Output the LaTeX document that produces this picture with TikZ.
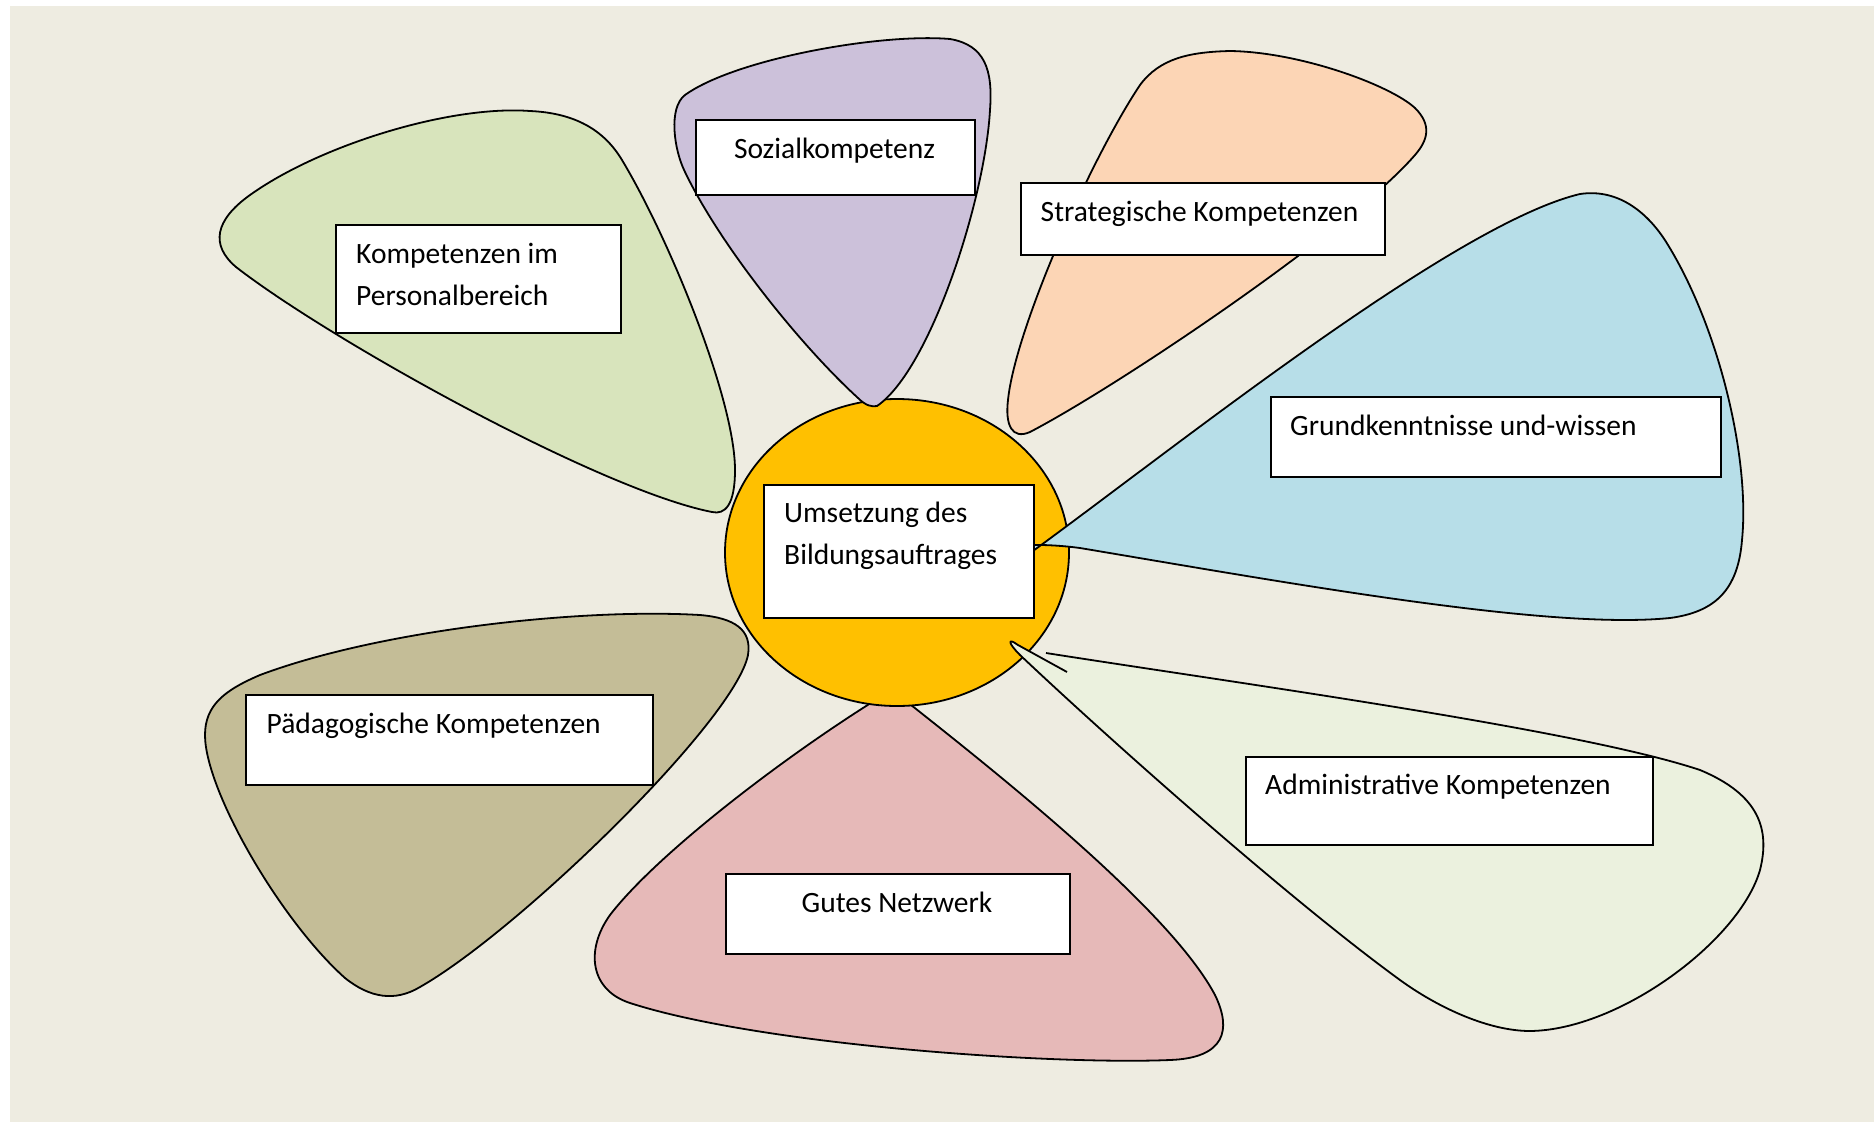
\documentclass[tikz,border=0pt]{standalone}
\usepackage{fontspec}
\setmainfont{Carlito}
\usetikzlibrary{shapes.geometric}
\definecolor{bgc}{HTML}{EEECE1}
\definecolor{cgreen}{HTML}{D8E4BC}
\definecolor{cpurple}{HTML}{CCC1DA}
\definecolor{corange}{HTML}{FCD5B5}
\definecolor{cblue}{HTML}{B7DEE8}
\definecolor{clgreen}{HTML}{EBF1DE}
\definecolor{cpink}{HTML}{E6B9B8}
\definecolor{ckhaki}{HTML}{C4BD97}
\definecolor{cgold}{HTML}{FFC000}
\begin{document}
\begin{tikzpicture}[x=1pt,y=-1pt,
  petal/.style={draw=black, line width=1.8pt, line join=round},
  labelbox/.style={draw=black, fill=white, line width=1.8pt, inner sep=0pt, anchor=north west},
  txt/.style={anchor=base west, inner sep=0pt, font=\fontsize{29.5}{35}\selectfont},
  ctxt/.style={anchor=base, inner sep=0pt, font=\fontsize{29.5}{35}\selectfont}]
\useasboundingbox (0,0) rectangle (1874,1122);
\fill[bgc] (10,6) rectangle (1874,1122);

% pink petal (behind the centre)
\filldraw[petal, fill=cpink] (892,690) .. controls (800,745) and (660,850) .. (610,915)
  .. controls (585,950) and (590,990) .. (630,1003)
  .. controls (760,1045) and (1050,1065) .. (1170,1060)
  .. controls (1225,1058) and (1232,1030) .. (1215,995)
  .. controls (1170,910) and (1000,775) .. (892,690) -- cycle;

% khaki petal
\filldraw[petal, fill=ckhaki] (700,615) .. controls (735,618) and (752,630) .. (748,655)
  .. controls (735,720) and (520,930) .. (420,987)
  .. controls (395,1002) and (370,998) .. (345,978)
  .. controls (280,920) and (205,790) .. (205,735)
  .. controls (205,705) and (225,690) .. (260,675)
  .. controls (380,630) and (580,608) .. (700,615) -- cycle;

% green petal
\filldraw[petal, fill=cgreen] (712,512) .. controls (600,490) and (330,340) .. (236,267)
  .. controls (210,245) and (215,220) .. (250,195)
  .. controls (320,145) and (450,105) .. (530,111)
  .. controls (575,113) and (604,130) .. (622,160)
  .. controls (670,240) and (735,400) .. (735,470)
  .. controls (735,505) and (725,515) .. (712,512) -- cycle;

% centre
\node[ellipse, draw=black, line width=1.8pt, fill=cgold, minimum width=344pt,
      minimum height=307pt, inner sep=0pt] (centre) at (897,552.5) {};

% purple petal
\filldraw[petal, fill=cpurple] (877,406) .. controls (930,370) and (985,200) .. (990,110)
  .. controls (993,70) and (985,45) .. (950,39)
  .. controls (880,33) and (735,59) .. (685,95)
  .. controls (668,108) and (674,150) .. (685,172)
  .. controls (720,245) and (800,345) .. (858,398)
  .. controls (866,406) and (872,407) .. (877,406) -- cycle;

% orange petal
\filldraw[petal, fill=corange] (1030,432) .. controls (1012,440) and (1005,425) .. (1008,400)
  .. controls (1015,330) and (1090,160) .. (1140,85)
  .. controls (1160,58) and (1190,52) .. (1230,51)
  .. controls (1300,52) and (1390,85) .. (1415,108)
  .. controls (1432,125) and (1428,140) .. (1415,155)
  .. controls (1350,230) and (1120,385) .. (1030,432) -- cycle;

% blue petal
\filldraw[petal, fill=cblue] (1015,564) .. controls (1160,460) and (1450,225) .. (1580,194)
  .. controls (1620,188) and (1650,215) .. (1668,245)
  .. controls (1720,330) and (1750,460) .. (1742,540)
  .. controls (1738,590) and (1715,612) .. (1670,618)
  .. controls (1550,630) and (1300,585) .. (1080,548)
  .. controls (1050,544) and (1030,545) .. (1015,545);

% light green petal (callout)
\filldraw[petal, fill=clgreen] (1046,653) .. controls (1250,685) and (1580,730) .. (1700,770)
  .. controls (1760,795) and (1770,830) .. (1760,870)
  .. controls (1740,940) and (1620,1030) .. (1530,1031)
  .. controls (1490,1031) and (1440,1009) .. (1400,980)
  .. controls (1290,900) and (1110,740) .. (1020,655)
  .. controls (1008,643) and (1007,637) .. (1018,645)
  -- (1067,672);

% boxes
\node[labelbox, minimum width=285pt, minimum height=108pt] (kbox) at (335,224) {};
\node[txt] (kt1) at (356,263) {Kompetenzen im};
\node[txt] (kt2) at (356,305) {Personalbereich};

\node[labelbox, minimum width=279pt, minimum height=75pt] (sbox) at (695,119) {};
\node[ctxt] (st) at (834.5,158) {Sozialkompetenz};

\node[labelbox, minimum width=364pt, minimum height=72pt] (stbox) at (1020,182) {};
\node[txt] (stt) at (1040.5,221) {Strategische Kompetenzen};

\node[labelbox, minimum width=450pt, minimum height=80pt] (gbox) at (1270,396) {};
\node[txt] (gt) at (1290,435) {Grundkenntnisse und-wissen};

\node[labelbox, minimum width=270pt, minimum height=133pt] (cbox) at (763,484) {};
\node[txt] (ct1) at (784,522) {Umsetzung des};
\node[txt] (ct2) at (784,564.5) {Bildungsauftrages};

\node[labelbox, minimum width=407pt, minimum height=88pt] (abox) at (1245,756) {};
\node[txt] (at) at (1265,794) {Administrative Kompetenzen};

\node[labelbox, minimum width=344pt, minimum height=80pt] (nbox) at (725,873) {};
\node[ctxt] (nt) at (897,912) {Gutes Netzwerk};

\node[labelbox, minimum width=407pt, minimum height=90pt] (pbox) at (245,694) {};
\node[txt] (pt) at (266.5,733) {Pädagogische Kompetenzen};
\end{tikzpicture}
\end{document}
